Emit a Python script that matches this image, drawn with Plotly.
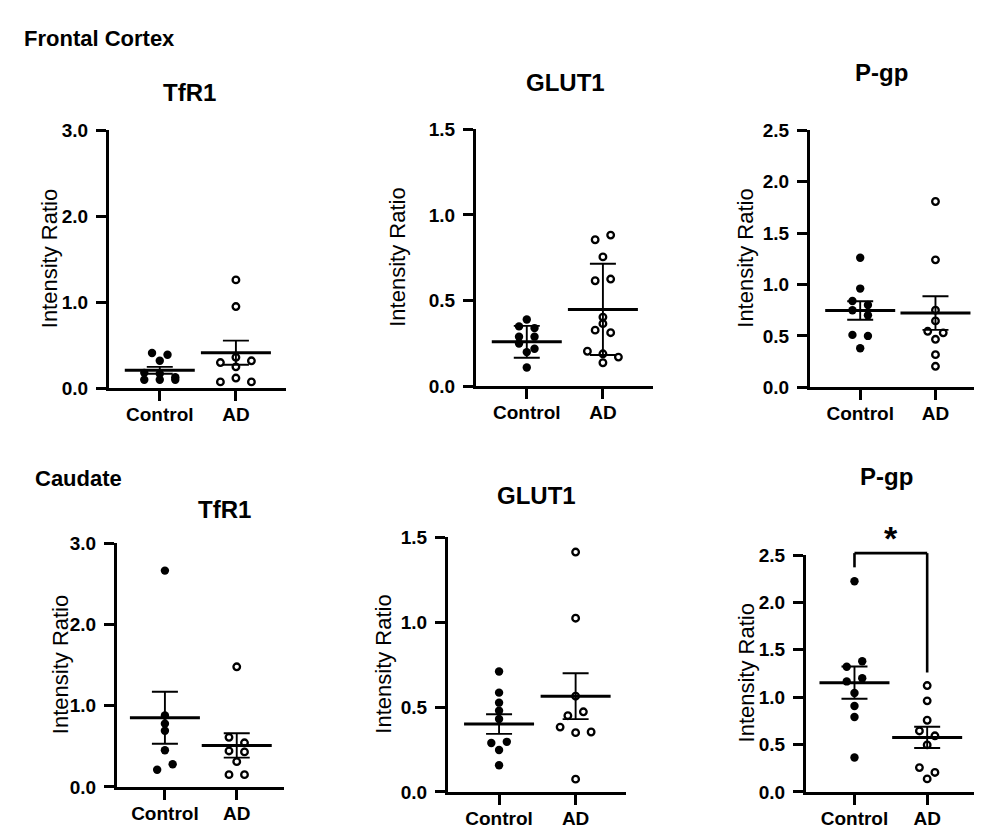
import plotly.graph_objects as go

FONT = "Liberation Sans, Arial, Helvetica, sans-serif"
W, H = 982, 828

groups = ["Control", "AD"]
region_titles = ["Frontal Cortex", "Caudate"]
y_title = "Intensity Ratio"
sig_label = "*"

# ---------------- Frontal Cortex ----------------
fc_tfr1_control = [0.41, 0.39, 0.32, 0.18, 0.17, 0.13, 0.10, 0.10, 0.10]
fc_tfr1_ad = [1.26, 0.95, 0.30, 0.36, 0.32, 0.25, 0.075, 0.12, 0.075]
fc_tfr1_mean = [0.21, 0.415]
fc_tfr1_err = [0.04, 0.14]

fc_glut1_control = [0.39, 0.35, 0.34, 0.29, 0.29, 0.25, 0.22, 0.20, 0.11]
fc_glut1_ad = [0.855, 0.882, 0.755, 0.616, 0.626, 0.404, 0.366, 0.328, 0.313,
               0.205, 0.19, 0.171, 0.138]
fc_glut1_mean = [0.26, 0.449]
fc_glut1_err = [0.093, 0.266]

fc_pgp_control = [1.26, 0.96, 0.84, 0.80, 0.75, 0.70, 0.51, 0.50, 0.38]
fc_pgp_ad = [1.806, 1.239, 0.75, 0.646, 0.545, 0.53, 0.467, 0.318, 0.205]
fc_pgp_mean = [0.747, 0.722]
fc_pgp_err = [0.09, 0.163]

# ---------------- Caudate ----------------
cd_tfr1_control = [2.664, 0.88, 0.78, 0.692, 0.452, 0.212, 0.28]
cd_tfr1_ad = [1.48, 0.612, 0.544, 0.444, 0.432, 0.312, 0.152, 0.152]
cd_tfr1_mean = [0.852, 0.512]
cd_tfr1_err = [0.32, 0.15]

cd_glut1_control = [0.71, 0.585, 0.526, 0.478, 0.43, 0.288, 0.295, 0.247, 0.157]
cd_glut1_ad = [1.414, 1.024, 0.564, 0.449, 0.472, 0.382, 0.349, 0.353, 0.075]
cd_glut1_mean = [0.40, 0.564]
cd_glut1_err = [0.058, 0.135]

cd_pgp_control = [2.223, 1.32, 1.378, 1.166, 1.2, 1.043, 0.906, 0.79, 0.363]
cd_pgp_ad = [1.122, 0.961, 0.756, 0.643, 0.592, 0.496, 0.256, 0.205, 0.137]
cd_pgp_mean = [1.153, 0.575]
cd_pgp_err = [0.17, 0.112]

# significance bracket (Caudate P-gp)
sig_bracket_top = 2.52
sig_left_end = 2.37
sig_right_end = 1.26

# ---------------- layout (pixel boxes) ----------------
XR = [-0.667, 1.658]
panels = [
    dict(ctrl=fc_tfr1_control, ad=fc_tfr1_ad, mean=fc_tfr1_mean, err=fc_tfr1_err,
         ymax=3.0, dtick=1.0, box=(101, 278, 115, 380), title="TfR1",
         title_xy=(181, 76), ylab_x=41),
    dict(ctrl=fc_glut1_control, ad=fc_glut1_ad, mean=fc_glut1_mean, err=fc_glut1_err,
         ymax=1.5, dtick=0.5, box=(468, 645, 114, 378), title="GLUT1",
         title_xy=(557, 66), ylab_x=390),
    dict(ctrl=fc_pgp_control, ad=fc_pgp_ad, mean=fc_pgp_mean, err=fc_pgp_err,
         ymax=2.5, dtick=0.5, box=(802, 977, 115, 379), title="P-gp",
         title_xy=(873, 56), ylab_x=738),
    dict(ctrl=cd_tfr1_control, ad=cd_tfr1_ad, mean=cd_tfr1_mean, err=cd_tfr1_err,
         ymax=3.0, dtick=1.0, box=(109, 276, 539, 789), title="TfR1",
         title_xy=(216, 504), ylab_x=52),
    dict(ctrl=cd_glut1_control, ad=cd_glut1_ad, mean=cd_glut1_mean, err=cd_glut1_err,
         ymax=1.5, dtick=0.5, box=(440, 618, 533, 794), title="GLUT1",
         title_xy=(528, 490), ylab_x=376),
    dict(ctrl=cd_pgp_control, ad=cd_pgp_ad, mean=cd_pgp_mean, err=cd_pgp_err,
         ymax=2.5, dtick=0.5, box=(798, 967, 551, 794), title="P-gp",
         title_xy=(878, 470), ylab_x=738),
]
region_xy = [(14, 21), (25, 472)]


def swarm_offsets(values, ypx, xpx, row_px=6.5, step_px=15.5):
    order = sorted(range(len(values)), key=lambda i: -values[i])
    rows = []
    for i in order:
        if rows and (values[rows[-1][0]] - values[i]) * ypx < row_px:
            rows[-1].append(i)
        else:
            rows.append([i])
    offs = [0.0] * len(values)
    for row in rows:
        row = sorted(row)
        n = len(row)
        for k, i in enumerate(row):
            offs[i] = (k - (n - 1) / 2) * step_px / xpx
    return offs


fig = go.Figure()
annotations = []
shapes = []

for idx, p in enumerate(panels):
    n = idx + 1
    xs = "" if n == 1 else str(n)
    xa, ya = "x" + xs, "y" + xs
    x0, x1, yt, yb = p["box"]
    xpx = (x1 - x0) / (XR[1] - XR[0])
    ypx = (yb - yt) / p["ymax"]

    for gi, (vals, filled) in enumerate([(p["ctrl"], True), (p["ad"], False)]):
        offs = swarm_offsets(vals, ypx, xpx)
        xv = [gi + o for o in offs]
        if filled:
            mk = dict(size=8.4, color="black", line=dict(width=0))
        else:
            mk = dict(size=6.6, color="white", line=dict(width=2.3, color="black"))
        fig.add_trace(go.Scatter(x=xv, y=vals, mode="markers", marker=mk,
                                 xaxis=xa, yaxis=ya, showlegend=False,
                                 hoverinfo="y", cliponaxis=False))

    fig.add_trace(go.Scatter(
        x=[0, 1], y=p["mean"], mode="markers", xaxis=xa, yaxis=ya,
        showlegend=False, cliponaxis=False,
        marker=dict(symbol="line-ew", size=50, color="black",
                    line=dict(width=3, color="black")),
        error_y=dict(type="data", array=p["err"], symmetric=True,
                     thickness=1.9, width=13, color="black")))

    axis_common = dict(showgrid=False, zeroline=False, showline=True,
                       linecolor="black", linewidth=3, ticks="outside",
                       ticklen=10, tickwidth=2.6, tickcolor="black",
                       tickfont=dict(family=FONT, size=19, color="black", weight="bold"))
    xdom = [x0 / W, x1 / W]
    ydom = [1 - yb / H, 1 - yt / H]
    xkey = "xaxis" if n == 1 else "xaxis%d" % n
    ykey = "yaxis" if n == 1 else "yaxis%d" % n
    fig.update_layout(**{
        xkey: dict(domain=xdom, range=XR, anchor=ya, tickmode="array",
                   tickvals=[0, 1], ticktext=groups, ticklabelstandoff=-3,
                   **axis_common),
        ykey: dict(domain=ydom, range=[0, p["ymax"]], anchor=xa, tickmode="linear",
                   tick0=0, dtick=p["dtick"], tickformat=".1f", ticklabelstandoff=4,
                   **axis_common),
    })

    tx, ty = p["title_xy"]
    annotations.append(dict(text=p["title"], x=tx / W, y=1 - ty / H, xref="paper",
                            yref="paper", showarrow=False, xanchor="center",
                            yanchor="middle",
                            font=dict(family=FONT, size=24, color="black", weight="bold")))
    annotations.append(dict(text=y_title, x=p["ylab_x"] / W, y=1 - (yt + yb) / 2 / H,
                            xref="paper", yref="paper", showarrow=False,
                            textangle=-90, xanchor="center", yanchor="middle",
                            font=dict(family=FONT, size=22, color="black")))

# region titles
for t, (rx, ry) in zip(region_titles, region_xy):
    annotations.append(dict(text=t, x=rx / W, y=1 - ry / H, xref="paper", yref="paper",
                            showarrow=False, xanchor="left", yanchor="middle",
                            font=dict(family=FONT, size=22, color="black", weight="bold")))

# significance bracket on last panel (domain refs so it is not clipped)
last = panels[-1]


def xf(v):
    return (v - XR[0]) / (XR[1] - XR[0])


def yf(v):
    return v / last["ymax"]


bl = dict(color="black", width=2.6)
shapes.append(dict(type="line", xref="x6 domain", yref="y6 domain",
                   x0=xf(0), x1=xf(0), y0=yf(sig_left_end), y1=yf(sig_bracket_top), line=bl))
shapes.append(dict(type="line", xref="x6 domain", yref="y6 domain",
                   x0=xf(0), x1=xf(1), y0=yf(sig_bracket_top), y1=yf(sig_bracket_top), line=bl))
shapes.append(dict(type="line", xref="x6 domain", yref="y6 domain",
                   x0=xf(1), x1=xf(1), y0=yf(sig_right_end), y1=yf(sig_bracket_top), line=bl))
annotations.append(dict(text=sig_label, xref="x6 domain", yref="y6 domain",
                        x=xf(0.5), y=yf(sig_bracket_top), xanchor="center",
                        yanchor="bottom", yshift=-6, showarrow=False,
                        font=dict(family=FONT, size=34, color="black", weight="bold")))

fig.update_layout(width=W, height=H, margin=dict(l=0, r=0, t=0, b=0),
                  paper_bgcolor="white", plot_bgcolor="white",
                  annotations=annotations, shapes=shapes, showlegend=False)

fig.write_html("out.html")
